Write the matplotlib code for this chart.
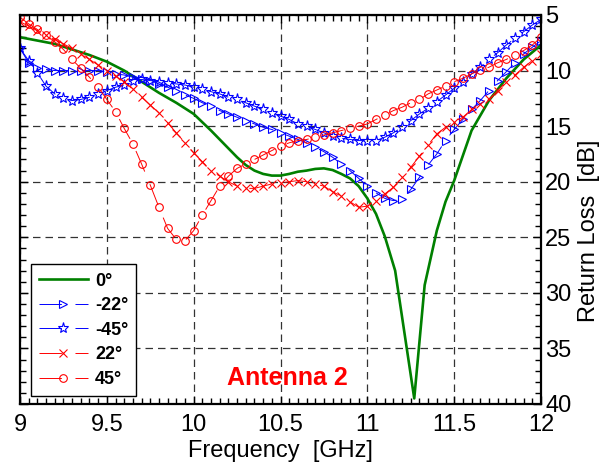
import numpy as np
import matplotlib
matplotlib.use('Agg')
import matplotlib.pyplot as plt

plt.rcParams['font.family'] = ['Liberation Sans', 'DejaVu Sans']

# =======================================================================================
# Frequency sweep [GHz] for the measured (marker) curves
freq = np.round(np.arange(9.0, 12.0001, 0.05), 2)

# Return loss [dB]
rl_m22 = [8.0, 9.3, 9.8, 9.9, 10.0, 10.0, 10.0, 10.0, 10.0, 10.0,
          10.1, 10.3, 10.4, 10.6, 10.8, 10.9, 11.2, 11.5, 11.8, 12.2,
          12.5, 12.9, 13.2, 13.6, 13.9, 14.2, 14.5, 14.8, 15.1, 15.3,
          15.6, 15.9, 16.2, 16.5, 16.9, 17.3, 17.8, 18.4, 19.0, 19.7,
          20.4, 21.0, 21.5, 21.7, 21.6, 20.7, 19.6, 18.5, 17.5, 16.3,
          15.3, 14.4, 13.5, 12.7, 11.8, 10.9, 10.1, 9.3, 8.5, 7.9, 7.3]

rl_m45 = [8.0, 9.1, 10.2, 11.4, 12.1, 12.5, 12.7, 12.6, 12.4, 12.1,
          11.8, 11.5, 11.3, 10.9, 10.8, 10.9, 11.0, 11.1, 11.2, 11.3,
          11.5, 11.7, 11.9, 12.1, 12.4, 12.6, 12.9, 13.2, 13.5, 13.8,
          14.1, 14.4, 14.8, 15.0, 15.3, 15.6, 15.9, 16.1, 16.2, 16.3,
          16.3, 16.3, 16.0, 15.6, 15.1, 14.5, 13.9, 13.4, 12.8, 12.2,
          11.6, 11.0, 10.3, 9.7, 9.0, 8.4, 7.7, 7.1, 6.5, 5.9, 5.4]

rl_p22 = [5.6, 6.0, 6.4, 6.8, 7.2, 7.6, 8.0, 8.5, 9.0, 9.5,
          10.0, 10.5, 11.0, 11.7, 12.4, 13.1, 13.8, 14.7, 15.6, 16.5,
          17.4, 18.2, 19.0, 19.5, 20.0, 20.4, 20.6, 20.6, 20.4, 20.2,
          20.1, 20.0, 19.9, 20.0, 20.2, 20.4, 20.9, 21.3, 21.8, 22.3,
          22.2, 21.7, 21.1, 20.5, 19.6, 18.7, 17.7, 16.7, 15.7, 15.1,
          14.6, 14.2, 13.5, 13.0, 12.6, 11.8, 11.0, 10.4, 9.7, 9.1, 8.5]

rl_p45 = [5.2, 5.8, 6.3, 6.8, 7.4, 8.1, 9.0, 9.8, 10.6, 11.5,
          12.6, 13.7, 15.2, 16.6, 18.4, 20.3, 22.3, 24.2, 25.2, 25.3,
          24.4, 23.0, 21.7, 20.4, 19.5, 18.8, 18.4, 18.0, 17.6, 17.2,
          16.8, 16.5, 16.3, 16.2, 16.0, 15.8, 15.6, 15.4, 15.2, 15.0,
          14.8, 14.4, 14.0, 13.6, 13.3, 12.9, 12.6, 12.1, 11.75, 11.4,
          11.0, 10.7, 10.3, 9.95, 9.7, 9.3, 9.0, 8.6, 8.2, 7.7, 7.0]

# Simulated 0 deg curve (solid line)
freq_0 = [9.0, 9.1, 9.2, 9.3, 9.4, 9.5, 9.6, 9.7, 9.8, 9.9,
          10.0, 10.1, 10.2, 10.25, 10.3, 10.35, 10.4, 10.45, 10.5, 10.55,
          10.6, 10.65, 10.7, 10.75, 10.8, 10.85, 10.9, 10.95, 11.0, 11.05,
          11.1, 11.16, 11.27, 11.33, 11.4, 11.45, 11.5, 11.6, 11.7, 11.8,
          11.9, 12.0]
rl_0 = [7.0, 7.3, 7.6, 8.1, 8.6, 9.2, 10.0, 11.0, 12.0, 12.9,
        13.9, 15.4, 17.0, 17.8, 18.5, 19.0, 19.3, 19.45, 19.45, 19.3,
        19.1, 19.0, 18.85, 18.8, 18.95, 19.3, 19.7, 20.4, 21.5, 22.9,
        24.9, 28.0, 39.5, 29.3, 24.4, 21.8, 19.9, 15.4, 12.7, 10.7,
        9.0, 7.7]

label_list = ['0°', '-22°', '-45°', '22°', '45°']

# Plot settings
TKF = 17    # tick font
LBF = 17    # label font
LGF = 13    # legend font
lw0 = 1.9   # green line width
lw1 = 0.7   # marker line width
dash = (0, (23, 14))
# =======================================================================================

fig = plt.figure(figsize=(6.13, 4.73), dpi=100)
ax = fig.add_axes([0.0326, 0.1459, 0.85, 0.8224])

ax.plot(freq_0, rl_0, color='#008000', lw=lw0, label=label_list[0])
ax.plot(freq, rl_m22, color='#0000ff', lw=lw1, ls=dash, marker='>', ms=6,
        mfc='none', mec='#0000ff', mew=0.8, label=label_list[1])
ax.plot(freq, rl_m45, color='#0000ff', lw=lw1, ls=dash, marker='*', ms=8,
        mfc='none', mec='#0000ff', mew=0.8, label=label_list[2])
ax.plot(freq, rl_p22, color='#ff0000', lw=lw1, ls=dash, marker='x', ms=6,
        mfc='none', mec='#ff0000', mew=0.8, label=label_list[3])
ax.plot(freq, rl_p45, color='#ff0000', lw=lw1, ls=dash, marker='o', ms=5.5,
        mfc='none', mec='#ff0000', mew=0.8, label=label_list[4])

ax.text(10.54, 37.7, 'Antenna 2', color='#ff0000', fontsize=18,
        fontweight='bold', ha='center', va='center')

# Axes
ax.set_xlim(9, 12)
ax.set_ylim(40, 5)
ax.set_xticks(np.arange(9, 12.01, 0.5))
ax.set_xticklabels(['9', '9.5', '10', '10.5', '11', '11.5', '12'])
ax.set_xticks(np.arange(9, 12.01, 0.05), minor=True)
ax.set_yticks(np.arange(5, 40.1, 5))
ax.set_yticks(np.arange(5, 40.1, 1), minor=True)

ax.grid(True, which='major', color='0.2', ls=(0, (6, 4)), lw=0.9)
ax.tick_params(which='both', direction='in', top=True, bottom=True,
               left=True, right=True, labelleft=False, labelright=True,
               labelsize=TKF, width=1)
ax.tick_params(which='major', length=6)
ax.tick_params(which='minor', length=4)
ax.tick_params(axis='x', pad=7)
ax.tick_params(axis='y', pad=3)
for s in ax.spines.values():
    s.set_linewidth(1.6)

ax.set_xlabel('Frequency  [GHz]', fontsize=LBF, labelpad=3)
ax.yaxis.set_label_position('right')
ax.set_ylabel('Return Loss  [dB]', fontsize=LBF)
ax.yaxis.set_label_coords(1.07, 0.445)

lg = ax.legend(loc='lower left', bbox_to_anchor=(0.021, 0.0206),
               borderaxespad=0, prop={'weight': 'bold', 'size': LGF},
               fancybox=False, framealpha=1, edgecolor='k', numpoints=1,
               handlelength=2.7, handletextpad=0.4, labelspacing=0.42,
               borderpad=0.45)
lg.get_frame().set_linewidth(1.0)

fig.savefig('out.png', dpi=100)
